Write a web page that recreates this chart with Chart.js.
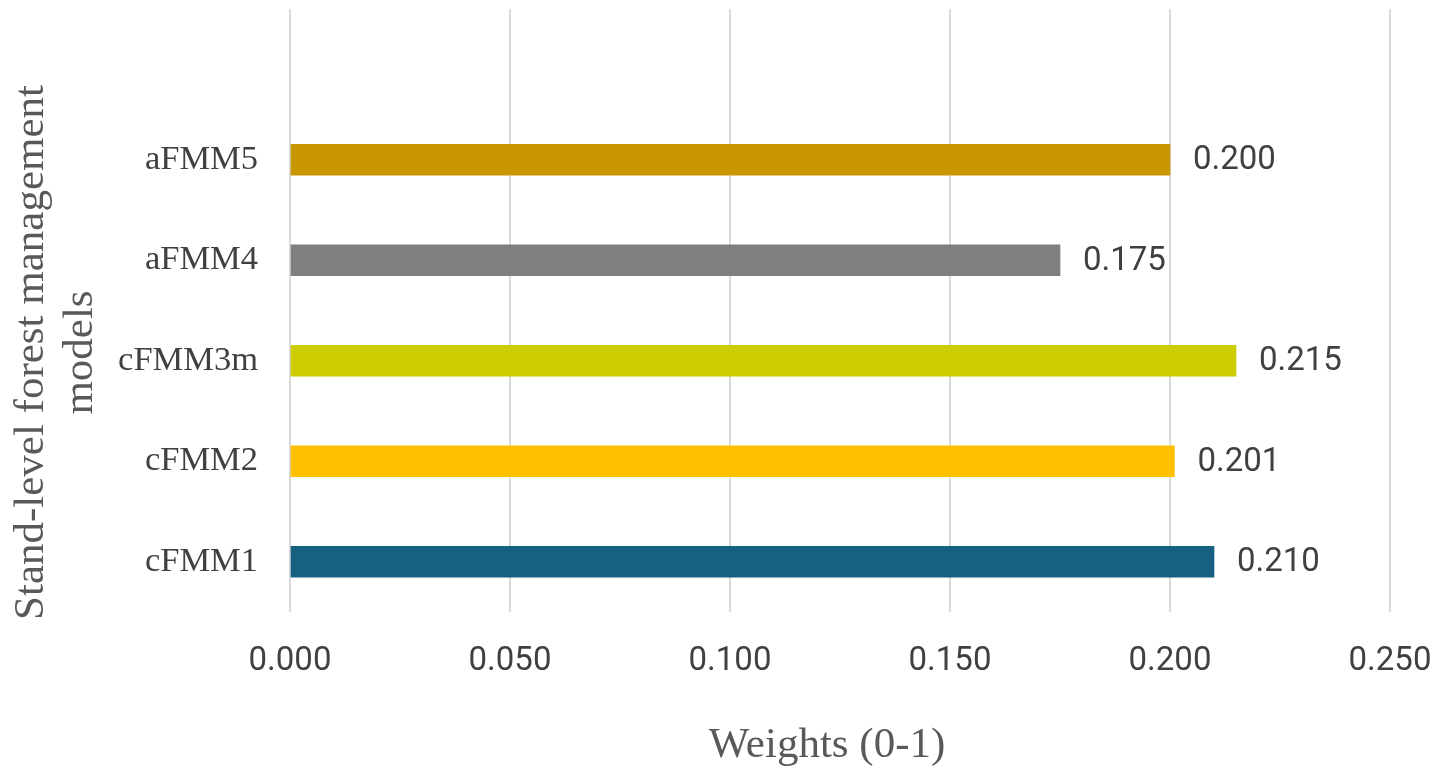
<!DOCTYPE html>
<html>
<head>
<meta charset="utf-8">
<script src="https://cdn.jsdelivr.net/npm/chart.js@4.4.1/dist/chart.umd.min.js"></script>
<style>
  html, body { margin: 0; padding: 0; background: #fff; }
  #wrap { width: 1441px; height: 775px; }
</style>
</head>
<body>
<div id="wrap"><canvas id="weightChart" width="1441" height="775"></canvas></div>
<script>
// 모델 이름 (위에서 아래 순서)
const models = ['aFMM5', 'aFMM4', 'cFMM3m', 'cFMM2', 'cFMM1'];
// 가중치 값
const weights = [0.200, 0.175, 0.215, 0.201, 0.210];
// 막대 색상
const barColors = ['#C99700', '#7F7F7F', '#CCCC00', '#FFC000', '#166082'];
// x축 눈금
const xTicks = [0, 0.05, 0.10, 0.15, 0.20, 0.25];

const yTitleLines = ['Stand-level forest management', 'models'];
const xTitle = 'Weights (0-1)';

// 맨 위 빈 칸 하나 (원본 그래프의 여백)
const labels = [''].concat(models);
const values = [null].concat(weights);
const colors = ['rgba(0,0,0,0)'].concat(barColors);

// 막대 끝에 값 표시
const valueLabels = {
    id: 'valueLabels',
    afterDatasetsDraw(chart) {
        const ctx = chart.ctx;
        const meta = chart.getDatasetMeta(0);
        ctx.save();
        ctx.font = '33px Roboto, "DejaVu Sans", sans-serif';
        ctx.fillStyle = '#404040';
        ctx.textAlign = 'left';
        ctx.textBaseline = 'middle';
        meta.data.forEach((bar, i) => {
            const v = values[i];
            if (v === null) return;
            ctx.fillText(v.toFixed(3), bar.x + 23, bar.y + 1);
        });
        ctx.restore();
    }
};

// 축 제목 그리기
const axisTitles = {
    id: 'axisTitles',
    afterDraw(chart) {
        const ctx = chart.ctx;
        const area = chart.chartArea;
        ctx.save();
        ctx.fillStyle = '#595959';
        ctx.font = '43px "Liberation Serif", "Times New Roman", serif';
        ctx.textAlign = 'center';
        ctx.textBaseline = 'alphabetic';
        ctx.fillText(xTitle, (area.left + area.right) / 2 - 13, 757);

        ctx.translate(0, (area.top + area.bottom) / 2 + 42);
        ctx.rotate(-Math.PI / 2);
        ctx.fillText(yTitleLines[0], 0, 43);
        ctx.fillText(yTitleLines[1], 0, 92);
        ctx.restore();
    }
};

const ctx = document.getElementById('weightChart').getContext('2d');
const chartInstance = new Chart(ctx, {
    type: 'bar',
    data: {
        labels: labels,
        datasets: [{
            data: values,
            backgroundColor: colors,
            borderWidth: 0,
            barThickness: 31
        }]
    },
    options: {
        indexAxis: 'y',
        responsive: false,
        animation: false,
        layout: {
            padding: { top: 9, right: 51, left: 0, bottom: 0 }
        },
        plugins: {
            legend: { display: false },
            tooltip: { enabled: false }
        },
        scales: {
            x: {
                min: 0,
                max: 0.25,
                afterFit(scale) {
                    scale.height = 163;
                    scale.paddingLeft = 0;
                    scale.paddingRight = 0;
                },
                afterBuildTicks(scale) {
                    scale.ticks = xTicks.map(v => ({ value: v }));
                },
                ticks: {
                    padding: 30,
                    color: '#404040',
                    font: { family: 'Roboto, "DejaVu Sans", sans-serif', size: 33 },
                    callback: v => Number(v).toFixed(3)
                },
                grid: {
                    color: '#D9D9D9',
                    lineWidth: 2,
                    drawTicks: false
                },
                border: { display: false }
            },
            y: {
                afterFit(scale) {
                    scale.width = 290;
                    scale.paddingTop = 0;
                    scale.paddingBottom = 0;
                },
                ticks: {
                    padding: 32,
                    color: '#404040',
                    font: { family: '"Liberation Serif", "Times New Roman", serif', size: 34.5 }
                },
                grid: { display: false, drawTicks: false },
                border: { display: false }
            }
        }
    },
    plugins: [valueLabels, axisTitles]
});
</script>
</body>
</html>
